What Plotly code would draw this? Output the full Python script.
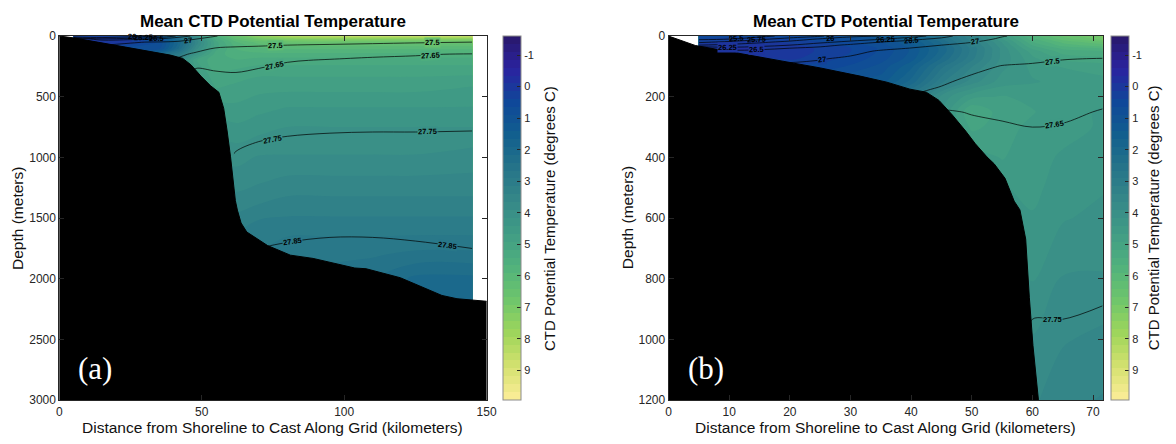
import math
import numpy as np
import plotly.graph_objects as go
from plotly.colors import cmocean, sample_colorscale

N = None

# ---------------- Section (a): 0-150 km ----------------
casts_a_km = [5, 15, 25, 35, 42, 48, 55, 62, 70, 80, 95, 110, 125, 145]
depth_a_m = [0, 25, 50, 100, 150, 200, 300, 400, 600, 800, 1000, 1200, 1400, 1600, 1800, 2000, 2200]

# potential temperature profiles (deg C), one list per cast, top to bottom
temp_a = [
    [0.3, N, N, N, N, N, N, N, N, N, N, N, N, N, N, N, N],
    [0.2, 0.0, -0.1, N, N, N, N, N, N, N, N, N, N, N, N, N, N],
    [0.4, 0.2, 0.1, N, N, N, N, N, N, N, N, N, N, N, N, N, N],
    [1.0, 0.8, 0.7, 0.8, N, N, N, N, N, N, N, N, N, N, N, N, N],
    [2.5, 2.2, 2.0, 2.2, 3.0, N, N, N, N, N, N, N, N, N, N, N, N],
    [4.0, 3.7, 3.5, 3.8, 4.3, 4.9, N, N, N, N, N, N, N, N, N, N, N],
    [5.6, 5.3, 5.1, 5.1, 5.3, 5.4, 5.2, 5.0, N, N, N, N, N, N, N, N, N],
    [6.6, 6.2, 5.9, 5.7, 5.6, 5.4, 5.1, 4.9, 4.6, 4.3, 4.0, 3.8, 3.5, N, N, N, N],
    [7.5, 6.8, 6.3, 5.9, 5.6, 5.3, 5.0, 4.8, 4.5, 4.2, 3.9, 3.7, 3.4, 3.0, N, N, N],
    [8.2, 7.1, 6.5, 6.0, 5.6, 5.3, 5.0, 4.8, 4.4, 4.1, 3.9, 3.6, 3.3, 3.0, 2.7, N, N],
    [8.5, 7.3, 6.6, 6.0, 5.6, 5.3, 5.0, 4.8, 4.4, 4.1, 3.9, 3.6, 3.3, 3.0, 2.7, N, N],
    [8.6, 7.3, 6.6, 6.0, 5.6, 5.3, 5.0, 4.8, 4.4, 4.1, 3.9, 3.6, 3.3, 3.0, 2.7, N, N],
    [8.7, 7.3, 6.6, 6.0, 5.6, 5.3, 5.0, 4.8, 4.4, 4.1, 3.9, 3.6, 3.3, 3.0, 2.6, 2.1, N],
    [8.7, 7.3, 6.6, 6.0, 5.6, 5.3, 5.0, 4.7, 4.4, 4.1, 3.8, 3.6, 3.3, 3.0, 2.6, 2.1, N],
]

# potential density anomaly profiles (kg/m^3)
sigma_a = [
    [25.6, 26.8, N, N, N, N, N, N, N, N, N, N, N, N, N, N, N],
    [25.7, 26.3, 26.9, 27.1, N, N, N, N, N, N, N, N, N, N, N, N, N],
    [25.85, 26.4, 26.97, 27.15, N, N, N, N, N, N, N, N, N, N, N, N, N],
    [26.0, 26.55, 27.03, 27.25, 27.4, N, N, N, N, N, N, N, N, N, N, N, N],
    [26.3, 26.8, 27.08, 27.3, 27.45, 27.55, N, N, N, N, N, N, N, N, N, N, N],
    [26.6, 27.0, 27.15, 27.4, 27.55, 27.61, 27.67, N, N, N, N, N, N, N, N, N, N],
    [26.98, 27.2, 27.38, 27.51, 27.57, 27.61, 27.655, 27.68, 27.71, N, N, N, N, N, N, N, N],
    [27.25, 27.34, 27.43, 27.52, 27.57, 27.60, 27.65, 27.68, 27.71, 27.735, 27.755, 27.775, 27.795, 27.82, N, N, N],
    [27.27, 27.36, 27.44, 27.53, 27.58, 27.62, 27.665, 27.69, 27.715, 27.742, 27.765, 27.785, 27.805, 27.83, 27.855, N, N],
    [27.28, 27.37, 27.46, 27.54, 27.60, 27.645, 27.675, 27.695, 27.72, 27.747, 27.77, 27.795, 27.815, 27.843, 27.857, 27.87, N],
    [27.29, 27.38, 27.47, 27.55, 27.625, 27.655, 27.68, 27.70, 27.725, 27.75, 27.775, 27.797, 27.82, 27.845, 27.862, 27.875, N],
    [27.30, 27.39, 27.48, 27.56, 27.64, 27.66, 27.685, 27.70, 27.73, 27.751, 27.775, 27.797, 27.82, 27.845, 27.862, 27.875, N],
    [27.30, 27.40, 27.49, 27.57, 27.645, 27.665, 27.69, 27.705, 27.73, 27.751, 27.775, 27.795, 27.815, 27.842, 27.86, 27.875, 27.89],
    [27.30, 27.40, 27.50, 27.58, 27.655, 27.67, 27.69, 27.705, 27.73, 27.752, 27.775, 27.795, 27.815, 27.835, 27.855, 27.87, 27.885],
]
levels_a = [26, 26.25, 26.5, 27, 27.5, 27.65, 27.75, 27.85]

# seafloor along section (a)
bathy_a_km = [0, 5, 15, 25, 33, 39, 43.3, 46.2, 49.7, 53.1, 56, 57.7, 58.9, 60.1, 61.8,
              62.5, 63.8, 65.8, 73.1, 81.1, 89.1, 98.4, 103.7, 107.7, 119.7, 126.3, 134.3,
              139.6, 144.9, 150]
bathy_a_m = [0, 15, 55, 95, 133, 157, 184, 237, 330, 410, 463, 596, 782, 995, 1356,
             1434, 1540, 1614, 1726, 1805, 1832, 1885, 1911, 1917, 1991, 2057, 2137,
             2164, 2177, 2185]

# ---------------- Section (b): 0-72 km ----------------
casts_b_km = [5, 10, 15, 20, 25, 30, 35, 40, 45, 50, 55, 60, 65, 71.6]
depth_b_m = [0, 10, 20, 30, 40, 50, 75, 100, 150, 200, 250, 300, 400, 500, 600, 800, 1000, 1200]

temp_b = [
    [0.6, 0.4, 0.2, 0.1, N, N, N, N, N, N, N, N, N, N, N, N, N, N],
    [0.5, 0.3, 0.1, 0.0, -0.1, 0.0, N, N, N, N, N, N, N, N, N, N, N, N],
    [0.5, 0.3, 0.1, 0.0, -0.1, -0.1, N, N, N, N, N, N, N, N, N, N, N, N],
    [0.6, 0.4, 0.2, 0.1, 0.0, 0.0, 0.1, N, N, N, N, N, N, N, N, N, N, N],
    [0.8, 0.6, 0.4, 0.3, 0.2, 0.2, 0.3, 0.5, N, N, N, N, N, N, N, N, N, N],
    [1.0, 0.8, 0.6, 0.5, 0.4, 0.4, 0.5, 0.7, N, N, N, N, N, N, N, N, N, N],
    [1.3, 1.1, 0.9, 0.8, 0.7, 0.7, 0.8, 1.0, 1.3, N, N, N, N, N, N, N, N, N],
    [1.8, 1.6, 1.4, 1.3, 1.2, 1.2, 1.3, 1.6, 2.0, N, N, N, N, N, N, N, N, N],
    [2.5, 2.4, 2.2, 2.1, 2.0, 2.0, 2.2, 2.6, 3.1, 4.0, N, N, N, N, N, N, N, N],
    [3.4, 3.3, 3.2, 3.1, 3.0, 3.0, 3.1, 3.4, 3.8, 4.6, 5.2, 5.0, N, N, N, N, N, N],
    [4.5, 4.4, 4.2, 4.1, 4.0, 4.0, 4.0, 4.1, 4.3, 4.7, 4.8, 4.8, 4.7, N, N, N, N, N],
    [5.8, 5.6, 5.4, 5.2, 5.0, 4.8, 4.6, 4.5, 4.4, 4.6, 4.7, 4.6, 4.5, 4.5, 4.4, 4.2, 3.9, N],
    [6.5, 6.3, 6.0, 5.8, 5.5, 5.3, 5.0, 4.7, 4.5, 4.5, 4.5, 4.5, 4.4, 4.3, 4.2, 3.9, 3.7, 3.5],
    [7.0, 6.8, 6.4, 6.1, 5.7, 5.4, 5.1, 4.8, 4.6, 4.5, 4.4, 4.4, 4.3, 4.2, 4.1, 3.9, 3.6, 3.4],
]

sigma_b = [
    [25.2, 25.45, 25.7, 26.0, 26.5, N, N, N, N, N, N, N, N, N, N, N, N, N],
    [25.3, 25.5, 25.82, 26.07, 26.33, 26.58, 26.9, N, N, N, N, N, N, N, N, N, N, N],
    [25.4, 25.7, 25.95, 26.15, 26.38, 26.62, 26.97, N, N, N, N, N, N, N, N, N, N, N],
    [25.6, 25.85, 26.08, 26.25, 26.5, 26.62, 26.95, 27.05, N, N, N, N, N, N, N, N, N, N],
    [25.72, 26.03, 26.19, 26.4, 26.58, 26.7, 26.98, 27.1, 27.2, N, N, N, N, N, N, N, N, N],
    [25.95, 26.12, 26.32, 26.56, 26.7, 26.9, 27.06, 27.12, 27.25, N, N, N, N, N, N, N, N, N],
    [26.0, 26.23, 26.5, 26.72, 26.92, 27.04, 27.12, 27.18, 27.3, 27.4, N, N, N, N, N, N, N, N],
    [26.15, 26.4, 26.65, 26.85, 27.01, 27.08, 27.17, 27.25, 27.38, 27.5, N, N, N, N, N, N, N, N],
    [26.35, 26.6, 26.85, 27.0, 27.1, 27.18, 27.28, 27.36, 27.47, 27.57, 27.66, N, N, N, N, N, N, N],
    [26.75, 26.88, 26.99, 27.08, 27.15, 27.21, 27.33, 27.44, 27.55, 27.6, 27.645, 27.67, 27.7, N, N, N, N, N],
    [26.98, 27.05, 27.13, 27.2, 27.27, 27.33, 27.43, 27.51, 27.57, 27.6, 27.635, 27.66, 27.69, 27.71, N, N, N, N],
    [27.1, 27.16, 27.22, 27.28, 27.33, 27.38, 27.47, 27.52, 27.57, 27.6, 27.625, 27.65, 27.68, 27.7, 27.715, 27.74, 27.755, 27.77],
    [27.15, 27.2, 27.26, 27.31, 27.36, 27.41, 27.495, 27.53, 27.58, 27.61, 27.635, 27.655, 27.68, 27.7, 27.715, 27.74, 27.755, 27.77],
    [27.18, 27.23, 27.28, 27.33, 27.38, 27.43, 27.505, 27.54, 27.59, 27.63, 27.655, 27.67, 27.69, 27.705, 27.72, 27.742, 27.76, 27.775],
]
levels_b = [25.5, 25.75, 26, 26.25, 26.5, 27, 27.5, 27.65, 27.75]

bathy_b_km = [0, 4.4, 10, 15, 20.7, 25, 31.6, 36, 39.8, 42.5, 44.6, 46.8, 49.0, 50.6,
              52.5, 53.7, 55.5, 57.0, 57.95, 58.9, 59.5, 60.1, 61.0, 61.5]
bathy_b_m = [0, 31, 51, 69, 89, 105, 132, 152, 175, 185, 212, 260, 313, 355,
             398, 421, 469, 544, 573, 669, 861, 1020, 1199, 1300]

# where the isopycnal labels sit: (level, distance km, approximate depth m)
label_spots_a = [
    (26, 25.5, 8), (26.25, 29.5, 18), (26.5, 34, 24), (27, 45, 34),
    (27.5, 76, 75), (27.5, 131, 62),
    (27.65, 75.7, 237), (27.65, 130.4, 157),
    (27.75, 74.9, 862), (27.75, 129.3, 777),
    (27.85, 81.8, 1699), (27.85, 136.3, 1712),
]
label_spots_b = [
    (25.5, 11.2, 10), (25.75, 14.5, 13), (26, 26.7, 5), (26.25, 35.7, 10),
    (26.5, 40, 13), (27, 50.6, 20),
    (26.25, 9.8, 38), (26.5, 14.5, 44), (27, 25.3, 79),
    (27.5, 63.4, 79), (27.65, 63.7, 288), (27.75, 63.3, 935),
]

# colour axis limits (deg C) and colourbar ticks
t_min, t_max = -1.6, 9.95
cbar_ticks = [-1, 0, 1, 2, 3, 4, 5, 6, 7, 8, 9]

FONT = "Liberation Sans, Arial, Helvetica, sans-serif"
AX_COL = "#262626"
TXT_COL = "#111111"
W, H = 1176, 444
PLOT_TOP, PLOT_BOTTOM = 30, 406


def grid(profiles):
    arr = np.array([[np.nan if v is None else v for v in p] for p in profiles], dtype=float)
    return arr.T  # rows = depth, cols = cast


def column_at(xs, field, x):
    """Field profile linearly interpolated between the two casts around x."""
    i = int(np.clip(np.searchsorted(xs, x) - 1, 0, len(xs) - 2))
    w = float(np.clip((x - xs[i]) / (xs[i + 1] - xs[i]), 0, 1))
    a, b = field[:, i], field[:, i + 1]
    col = (1 - w) * a + w * b
    col = np.where(np.isnan(col), np.where(np.isnan(a), b, a), col)
    return col


def level_depth(xs, ds, field, x, level, hint):
    col = column_at(xs, field, x)
    hits = []
    for j in range(len(ds) - 1):
        a, b = col[j], col[j + 1]
        if np.isnan(a) or np.isnan(b) or a == b:
            continue
        if (a - level) * (b - level) <= 0:
            hits.append(ds[j] + (level - a) / (b - a) * (ds[j + 1] - ds[j]))
    return min(hits, key=lambda d: abs(d - hint)) if hits else hint


def value_at(xs, ds, field, x, d):
    col = column_at(xs, field, x)
    ok = ~np.isnan(col)
    return float(np.interp(d, np.array(ds)[ok], col[ok]))


haline = cmocean.haline

fig = go.Figure()

panels = [
    dict(x=casts_a_km, y=depth_a_m, t=temp_a, s=sigma_a, lv=levels_a, spots=label_spots_a,
         bx=bathy_a_km, bd=bathy_a_m, bottom=3000, xmax=150, xa="x", ya="y",
         px0=57, px1=489, cbx=506, cbt=552, ylab=14, tag="(a)", tagx=93),
    dict(x=casts_b_km, y=depth_b_m, t=temp_b, s=sigma_b, lv=levels_b, spots=label_spots_b,
         bx=bathy_b_km, bd=bathy_b_m, bottom=1200, xmax=71.6, xa="x2", ya="y2",
         px0=673, px1=1112, cbx=1120, cbt=1163, ylab=631, tag="(b)", tagx=711),
]

ann = []
n_bands = 46
for p in panels:
    tgrid = grid(p["t"])
    # the colour axis runs warm-at-bottom, so the field is shown as -T
    fig.add_trace(go.Contour(
        x=p["x"], y=p["y"], z=-tgrid, xaxis=p["xa"], yaxis=p["ya"],
        colorscale="haline_r", zauto=False, zmin=-t_max, zmax=-t_min,
        connectgaps=True,
        contours=dict(start=-t_max, end=-t_min, size=(t_max - t_min) / n_bands,
                      coloring="fill", showlines=False),
        line=dict(width=0),
        hoverinfo="skip",
        colorbar=dict(
            x=p["cbx"] / W, xanchor="left", xpad=0,
            y=1 - PLOT_BOTTOM / H, yanchor="bottom", ypad=0,
            len=(PLOT_BOTTOM - PLOT_TOP) / H, lenmode="fraction",
            thickness=18, thicknessmode="pixels",
            outlinewidth=1, outlinecolor="#8c8c8c",
            tickmode="array",
            tickvals=[-v for v in cbar_ticks],
            ticktext=[str(v) for v in cbar_ticks],
            ticks="inside", ticklen=4, tickcolor=AX_COL,
            tickfont=dict(family=FONT, size=11, color=AX_COL),
        ),
    ))
    # isopycnals, one trace per level, only through cells holding water data
    sgrid = grid(p["s"])
    for lv in p["lv"]:
        fig.add_trace(go.Contour(
            x=p["x"], y=p["y"], z=sgrid, xaxis=p["xa"], yaxis=p["ya"],
            connectgaps=False, showscale=False, hoverinfo="skip",
            contours=dict(start=lv, end=lv, size=1, coloring="none", showlabels=False),
            line=dict(color="black", width=0.7),
        ))
    # seafloor
    bx = [-1] + list(p["bx"]) + [p["xmax"] + 1, p["xmax"] + 1, -1]
    bd = [0] + list(p["bd"]) + [p["bd"][-1], p["bottom"] + 100, p["bottom"] + 100]
    fig.add_trace(go.Scatter(
        x=bx, y=bd, xaxis=p["xa"], yaxis=p["ya"], mode="lines",
        fill="toself", fillcolor="black", line=dict(color="black", width=1),
        hoverinfo="skip", showlegend=False,
    ))
    # contour labels sit on their isopycnal, following its slope, over the local fill
    kx = (p["px1"] - p["px0"]) / p["xmax"]
    ky = (PLOT_BOTTOM - PLOT_TOP) / p["bottom"]
    for lv, xl, hint in p["spots"]:
        d0 = level_depth(p["x"], p["y"], sgrid, xl, lv, hint)
        dl = level_depth(p["x"], p["y"], sgrid, xl - 1.5, lv, d0)
        dr = level_depth(p["x"], p["y"], sgrid, xl + 1.5, lv, d0)
        ang = math.degrees(math.atan2((dr - dl) * ky, 3.0 * kx))
        tv = value_at(p["x"], p["y"], tgrid, xl, d0)
        fill = sample_colorscale(haline, [min(max((tv - t_min) / (t_max - t_min), 0), 1)])[0]
        inside = d0 * ky >= 5
        ann.append(dict(text=f"<b>{lv:g}</b>", x=xl, y=d0, xref=p["xa"], yref=p["ya"],
                        showarrow=False, textangle=ang,
                        bgcolor=fill if inside else "rgba(0,0,0,0)", borderpad=0,
                        xanchor="center", yanchor="middle",
                        font=dict(family=FONT, size=7.5, color="black")))

    cx = (p["px0"] + p["px1"]) / 2
    ann.append(dict(text="<b>Mean CTD Potential Temperature</b>", x=cx / W, y=1 - 15 / H,
                    xref="paper", yref="paper", showarrow=False, xanchor="center",
                    yanchor="middle", font=dict(family=FONT, size=17, color="black")))
    ann.append(dict(text="Distance from Shoreline to Cast Along Grid (kilometers)",
                    x=cx / W, y=1 - 434 / H, xref="paper", yref="paper", showarrow=False,
                    xanchor="center", yanchor="middle",
                    font=dict(family=FONT, size=15.5, color=TXT_COL)))
    ann.append(dict(text="Depth (meters)", x=p["ylab"] / W, y=1 - 218 / H, xref="paper",
                    yref="paper", showarrow=False, textangle=-90, xanchor="center",
                    yanchor="middle", font=dict(family=FONT, size=15.5, color=TXT_COL)))
    ann.append(dict(text="CTD Potential Temperature (degrees C)", x=p["cbt"] / W,
                    y=1 - 218 / H, xref="paper", yref="paper", showarrow=False,
                    textangle=-90, xanchor="center", yanchor="middle",
                    font=dict(family=FONT, size=15, color=TXT_COL)))
    ann.append(dict(text=p["tag"], x=p["tagx"] / W, y=1 - 373 / H, xref="paper",
                    yref="paper", showarrow=False, xanchor="center", yanchor="middle",
                    font=dict(family="Liberation Serif, Times New Roman, serif",
                              size=31, color="white")))

ydom = [1 - PLOT_BOTTOM / H, 1 - PLOT_TOP / H]
axis_common = dict(
    showline=True, linecolor=AX_COL, linewidth=1, mirror="ticks",
    ticks="inside", ticklen=5, tickcolor=AX_COL, showgrid=False, zeroline=False,
    tickfont=dict(family=FONT, size=12, color=AX_COL),
)
fig.update_layout(
    width=W, height=H, margin=dict(l=0, r=0, t=0, b=0),
    paper_bgcolor="white", plot_bgcolor="white", showlegend=False,
    xaxis=dict(domain=[57 / W, 489 / W], range=[0, 150], anchor="y",
               tickvals=[0, 50, 100, 150], **axis_common),
    yaxis=dict(domain=ydom, range=[3000, 0], anchor="x",
               tickvals=[0, 500, 1000, 1500, 2000, 2500, 3000], **axis_common),
    xaxis2=dict(domain=[673 / W, 1112 / W], range=[0, 71.6], anchor="y2",
                tickvals=[0, 10, 20, 30, 40, 50, 60, 70], **axis_common),
    yaxis2=dict(domain=ydom, range=[1200, 0], anchor="x2",
                tickvals=[0, 200, 400, 600, 800, 1000, 1200], **axis_common),
    annotations=ann,
)

fig.write_html("out.html")
